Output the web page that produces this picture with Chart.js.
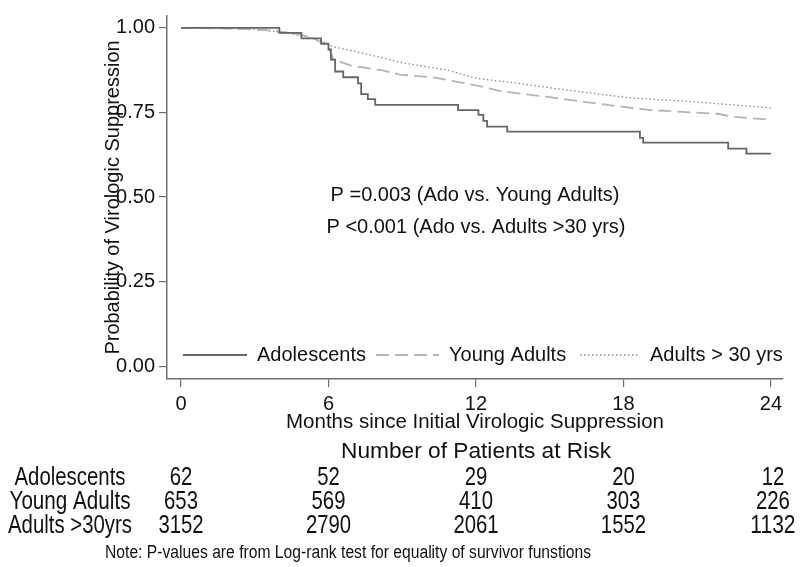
<!DOCTYPE html>
<html>
<head>
<meta charset="utf-8">
<script src="https://cdn.jsdelivr.net/npm/chart.js@4.4.1/dist/chart.umd.min.js"></script>
<style>
  html, body { margin: 0; padding: 0; background: #fff; }
  canvas { display: block; }
</style>
</head>
<body>
<canvas id="km" width="800" height="567"></canvas>
<script>
// Kaplan-Meier estimates (months, probability)
const adoMonths = [0, 4.0, 4.9, 5.7, 6.0, 6.1, 6.27, 6.6, 7.2, 7.33, 7.6, 7.9, 11.27, 12.1, 12.3, 12.45, 13.27, 18.67, 18.8, 22.26, 23.0, 24.0];
const adoSurv   = [1.0, 0.985, 0.969, 0.953, 0.936, 0.906, 0.871, 0.854, 0.836, 0.804, 0.789, 0.772, 0.757, 0.743, 0.725, 0.708, 0.693, 0.675, 0.661, 0.643, 0.628, 0.628];

const youngMonths = [0, 2, 3.5, 4.5, 5.3, 5.65, 6.0, 6.2, 6.9, 8.2, 8.9, 10.3, 10.9, 12.2, 13, 15, 17.7, 19.1, 21.8, 22.5, 24];
const youngSurv   = [1.0, 0.998, 0.993, 0.985, 0.972, 0.959, 0.945, 0.906, 0.889, 0.874, 0.862, 0.853, 0.845, 0.827, 0.813, 0.795, 0.769, 0.757, 0.746, 0.737, 0.728];

const oldMonths = [0, 2.8, 4.3, 5.1, 5.7, 6.2, 7.6, 8.9, 10.9, 12.0, 13.7, 15.7, 18.4, 20.4, 22.5, 24];
const oldSurv   = [1.0, 0.997, 0.985, 0.974, 0.962, 0.944, 0.922, 0.898, 0.874, 0.851, 0.836, 0.816, 0.792, 0.784, 0.772, 0.763];

const groupNames = ['Adolescents', 'Young Adults', 'Adults > 30 yrs'];
const riskLabels = ['Adolescents', 'Young Adults', 'Adults >30yrs'];
const riskMonths = [0, 6, 12, 18, 24];
const adoRisk   = [62, 52, 29, 20, 12];
const youngRisk = [653, 569, 410, 303, 226];
const oldRisk   = [3152, 2790, 2061, 1552, 1132];

const xTicks = [0, 6, 12, 18, 24];
const yTicks = [0, 0.25, 0.5, 0.75, 1.0];

const pText = ['P =0.003 (Ado vs. Young Adults)', 'P <0.001 (Ado vs. Adults >30 yrs)'];
const noteText = 'Note: P-values are from Log-rank test for equality of survivor funstions';

const FONT = "'Liberation Sans', Arial, sans-serif";
const AXIS = '#707070';
const colors = ['#666666', '#b5b5b5', '#8a8a8a'];
const dashes = [[], [13, 6], [1.5, 2.5]];

function toPoints(xs, ys) {
  return xs.map((x, i) => ({ x: x, y: ys[i] }));
}

// draw text squeezed horizontally to a target width (the original uses a narrow face)
function fitText(ctx, text, cx, cy, px, width) {
  ctx.font = px + 'px ' + FONT;
  const w = ctx.measureText(text).width;
  const sx = width ? width / w : 1;
  ctx.save();
  ctx.translate(cx, cy);
  ctx.scale(sx, 1);
  ctx.textAlign = 'center';
  ctx.textBaseline = 'middle';
  ctx.fillText(text, 0, 0);
  ctx.restore();
}

const extras = {
  id: 'extras',
  afterDraw(chart) {
    const ctx = chart.ctx;
    const xs = chart.scales.x;
    ctx.save();
    ctx.fillStyle = '#111';

    // p-values
    ctx.font = '20px ' + FONT;
    ctx.textAlign = 'center';
    ctx.textBaseline = 'middle';
    ctx.fillText(pText[0], 475, 195);
    ctx.fillText(pText[1], 476, 227);

    // legend inside the plot
    const legY = 355;
    const items = [
      { x0: 183, x1: 247, tx: 257 },
      { x0: 376, x1: 439, tx: 449 },
      { x0: 580, x1: 638, tx: 650 }
    ];
    items.forEach((it, i) => {
      ctx.beginPath();
      ctx.strokeStyle = colors[i];
      ctx.lineWidth = i === 2 ? 1.3 : 1.8;
      ctx.setLineDash(dashes[i]);
      ctx.moveTo(it.x0, legY);
      ctx.lineTo(it.x1, legY);
      ctx.stroke();
      ctx.setLineDash([]);
      ctx.font = '20px ' + FONT;
      ctx.textAlign = 'left';
      ctx.fillText(groupNames[i], it.tx, legY);
    });

    // number at risk table
    fitText(ctx, 'Number of Patients at Risk', 476, 452, 22, 270);
    const rows = [adoRisk, youngRisk, oldRisk];
    const rowY = [478, 502, 526];
    rows.forEach((vals, r) => {
      fitText(ctx, riskLabels[r], 70, rowY[r], 25, r === 0 ? 111 : (r === 1 ? 121 : 124));
      vals.forEach((v, c) => {
        const px = xs.getPixelForValue(riskMonths[c]);
        const s = String(v);
        fitText(ctx, s, px + (c === 4 ? 2 : 0), rowY[r], 25, s.length * 11.3);
      });
    });
    fitText(ctx, noteText, 348, 553, 18, 486);
    ctx.restore();
  }
};

new Chart(document.getElementById('km'), {
  type: 'line',
  data: {
    datasets: [
      { label: groupNames[0], data: toPoints(adoMonths, adoSurv), stepped: true,
        borderColor: colors[0], borderWidth: 1.8, borderDash: dashes[0] },
      { label: groupNames[1], data: toPoints(youngMonths, youngSurv),
        borderColor: colors[1], borderWidth: 1.8, borderDash: dashes[1] },
      { label: groupNames[2], data: toPoints(oldMonths, oldSurv),
        borderColor: colors[2], borderWidth: 1.3, borderDash: dashes[2] }
    ]
  },
  options: {
    responsive: false,
    animation: false,
    events: [],
    elements: { point: { radius: 0 }, line: { tension: 0, fill: false } },
    layout: { padding: { top: 12, right: 17, bottom: 0, left: 0 } },
    plugins: { legend: { display: false }, tooltip: { enabled: false } },
    scales: {
      x: {
        type: 'linear',
        min: -0.57,
        max: 24.49,
        afterBuildTicks: (s) => { s.ticks = xTicks.map(v => ({ value: v })); },
        afterFit: (s) => { s.height = 188; },
        border: { display: true, color: AXIS, width: 1.5 },
        grid: { drawOnChartArea: false, drawTicks: true, tickLength: 8, color: AXIS, lineWidth: 1.2 },
        ticks: { color: '#111', font: { family: FONT, size: 20 }, padding: 5, maxRotation: 0 },
        title: {
          display: true,
          text: 'Months since Initial Virologic Suppression',
          color: '#111',
          font: { family: FONT, size: 20.5 },
          padding: { top: 0, bottom: 132 }
        }
      },
      y: {
        type: 'linear',
        min: -0.038,
        max: 1.035,
        afterBuildTicks: (s) => { s.ticks = yTicks.map(v => ({ value: v })); },
        afterFit: (s) => { s.width = 167; },
        border: { display: true, color: AXIS, width: 1.5 },
        grid: { drawOnChartArea: false, drawTicks: true, tickLength: 8, color: AXIS, lineWidth: 1.2 },
        ticks: { color: '#111', font: { family: FONT, size: 20 }, padding: 4,
          callback: (v) => Number(v).toFixed(2) },
        title: {
          display: true,
          text: 'Probability of Virologic Suppression',
          color: '#111',
          font: { family: FONT, size: 20 },
          padding: { top: 101, bottom: 0 }
        }
      }
    }
  },
  plugins: [extras]
});
</script>
</body>
</html>
